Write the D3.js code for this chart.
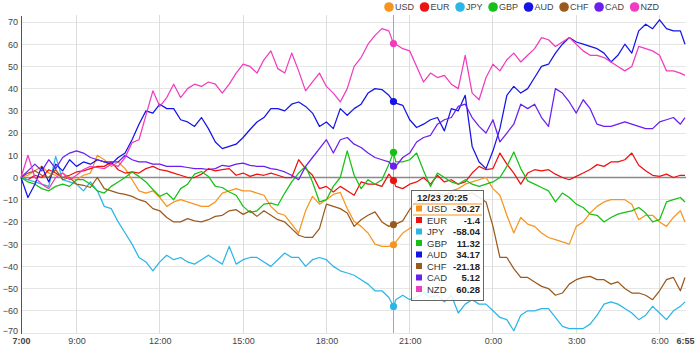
<!DOCTYPE html>
<html><head><meta charset="utf-8">
<script src="https://cdn.jsdelivr.net/npm/d3@7"></script>
<style>body{margin:0;background:#fff;font-family:"Liberation Sans",Arial,sans-serif}</style>
</head><body><svg id="c" width="700" height="358"></svg>
<script>
const currencies = ["USD","EUR","JPY","GBP","AUD","CHF","CAD","NZD"];
const colors = ["#f7941e","#ee1111","#2bb5e8","#16c016","#1414e6","#9a5a1c","#6a1ef0","#f03cbe"];
const stepMinutes = 15;      // sample spacing from 7:00
const lastMinute = 1435;     // 6:55 next day
const USD = [0,1,3,5,2,1,2,0,-1,1, 2,10,8,5,7,4,-1,-6,-7,-6, -9,-13,-11,-10,-11,-12,-13,-13,-11,-7, -6,-5,-6,-6,-7,-8,-13,-16,-17,-21, -25,-15,-8.5,-12,-10,-7.6,-6.7,-14,-19.8,-22, -25,-30,-31,-31,-29,-25,-23,-20,-16,-12, -10,-8,-6,-5,-3,-2,-1,0,-5,-8, -17,-25,-18,-21,-22,-25,-27,-28,-29,-30, -22,-20,-16,-13,-11,-10,-10,-10,-12,-19, -17,-17,-20,-22,-18,-15,-20];
const EUR = [0,-1,1,0,3.5,2,0,1,2.5,3, 4,5,5,7,3.5,2,2.5,2,4,5, 3.5,3,2,1,0,0,1.5,4,3,3.5, 4,1,2,0.5,1.5,1,2,1,0,0, 8,4,1,-5,-4,-6.5,-4,-6,-8,-2, -3,-3,-4,1.5,-4,-5,-3,-2,0,-3, 1,-2,-1,-3,-2,2,5,3.5,4,11, 6,2,-3,2,3.5,3,3.5,1.5,0,-1, 0.5,2,3.6,5.8,5,7,7,8,11,5.5, 3,1,0.5,1.5,0,1,1];
const JPY = [0,-1,-2,-3,-4,9.5,-1,-2,-3,-6, -2,-6,-13,-14,-20,-25,-30,-36,-38,-42, -38,-35,-37,-36,-38,-39,-37,-35,-37,-39, -31,-39,-37,-36,-36,-38,-40,-37,-34,-36, -36,-40,-37,-36,-37,-40,-42,-43,-44,-46, -48,-51,-51,-54,-55,-53,-55,-54,-52,-54, -53,-56,-53,-61,-57,-55,-57,-57,-60,-63, -64,-69,-62,-60,-60,-59,-59,-63,-67,-68, -68,-68,-66,-62,-57,-56,-57,-59,-61,-64, -62,-58,-61,-64,-60,-58,-56];
const GBP = [0,-2,-3,-5,-6,-4,-3,-4,-1,-1, -3,-6,-7,-4,-2,0,2.5,0.5,-2,-5.4, -8.5,-7,-10,-5,-3,1.5,2.7,0.5,-4,-4.5, -6.5,-8,-13,-15.7,-15,-12,-11.5,-12.5,-7,-2, 2,5,-2,-11,-10,-4,0,12,1,-5, -1,-3,-1,6,7,7,8,11,3,-4, 2,0,-2,-3,-1,-3,-4,-3,-2,0, 5,11.5,4,-1.5,-3,-4.5,-6,-11,-7,-9, -12,-13.5,-16.5,-17,-20,-18,-16.5,-15.7,-15,-13.5, -16,-20,-19,-11,-10,-9,-11];
const AUD = [0,-9,-3,5,-2,6,3,8,5,7, 6,8,7,6,9,11,17,24,30,29, 33,31,31,26,25,23,27,22,16,13, 14,15,18,21.6,25,27,31,31,30,33, 34,32,29,23,25,22,31,28,31,33, 38,40,39.6,37,33.5,32.5,26,22.5,24,26, 27,21,31,30,37,14,7,4,12,22, 37,41,38,40,45,50,51,56,60,63, 61,60,59,58,56,52,55,60,56,66, 69,67,71,67,66,66,60];
const CHF = [0,2,3,1,0,3.5,-1,0,-3,-3.5, -4.5,0,-5,-6,-7,-7.6,-8.5,-10,-11,-14, -15,-18,-20,-20,-18.5,-19.5,-20,-19,-17.5,-17, -15,-14.5,-16.6,-15,-17.5,-15,-17,-19,-20,-23, -26,-27,-27,-23,-12,-13,-14,-16,-22,-19, -17,-15.5,-20,-22,-21,-19.5,-14.4,-11,-9,-8, -7,-8,-7,-9,-8,-7,-9,-11,-22,-36, -36,-41,-45,-45,-47,-49,-50,-53,-52,-48, -46,-45,-44.5,-46,-46,-48,-47,-50,-52,-52, -53,-55,-51,-46,-45,-51,-45];
const CAD = [0,3,6,3,8,4,9,11,12,11, 9,8,7,7,7,10,8,7,7,6, 6,5,5,5,4.5,4,4,3.6,4,5.5, 5,6,6.5,5.5,5,5,4,3.5,2.5,1, -1,5,9,13,17,11,17,18,15,13.5, 11,9,8,7,5,9,11,16,18,19, 24,26,27,32,33,27,23,20,26,16, 20,24,33,31,33,27,23,40,38,34, 29,35,31,24,23,23,24,25,24,23, 22,22,25,26,27,24,27];
const NZD = [0,10,0,-3,-5,0,2,-1,1,3.6, 5,4.5,4,6,5,9,15.7,17,28,39, 32,36,42,36,40,42,41,43,42,38, 42,47,51,50,47,53,57,49,47,56, 48,39,43,47,41,38,34,40,50,54, 60,64,67,66,60,58,57,50,43,47, 45,46,42,40,55,38,35,45,51,48, 53,56,52,55,58,63,62,59,61,63, 60,57,55,55,54,52,50,48,50,59, 58,57,55,48,48,47,46];
const seriesValues = [USD,EUR,JPY,GBP,AUD,CHF,CAD,NZD];

const hoverMinute = 805;          // 20:25
const hoverLabel = "12/23 20:25";
const hoverValues = [-30.27,-1.4,-58.04,11.32,34.17,-21.18,5.12,60.28];
const hoverLabels = ["-30.27","-1.4","-58.04","11.32","34.17","-21.18","5.12","60.28"];
const highlighted = "USD";

const yTicks = [-70,-60,-50,-40,-30,-20,-10,0,10,20,30,40,50,60,70];
const xTickMinutes = [0,120,300,480,660,840,1020,1200,1380,1435];
const xTickLabels = ["7:00","9:00","12:00","15:00","18:00","21:00","0:00","3:00","6:00","6:55"];

const svg = d3.select("#c");
const left = 21, right = 685, plotTop = 15, plotBottom = 333;
const x = d3.scaleLinear().domain([0,lastMinute]).range([left,right]);
const y = d3.scaleLinear().domain([-70,70]).range([333,22]);

// horizontal grid
svg.append("g").selectAll("line").data(yTicks.filter(d=>d!==0)).join("line")
  .attr("x1",left).attr("x2",right+1).attr("y1",d=>y(d)).attr("y2",d=>y(d))
  .attr("stroke","#e6e6e6").attr("stroke-width",1).attr("shape-rendering","crispEdges");
// vertical grid
svg.append("g").selectAll("line").data(xTickMinutes.slice(1,-1)).join("line")
  .attr("x1",d=>x(d)).attr("x2",d=>x(d)).attr("y1",plotTop).attr("y2",plotBottom)
  .attr("stroke","#dcdcdc").attr("stroke-width",1).attr("shape-rendering","crispEdges");
// zero line
svg.append("line").attr("x1",left).attr("x2",right+1).attr("y1",y(0)).attr("y2",y(0))
  .attr("stroke","#8a8a8a").attr("stroke-width",1.6);
// crosshair
svg.append("line").attr("x1",x(hoverMinute)).attr("x2",x(hoverMinute)).attr("y1",plotTop).attr("y2",plotBottom)
  .attr("stroke","#a8a8a8").attr("stroke-width",1).attr("shape-rendering","crispEdges");

// y axis
const yAxis = d3.axisLeft(y).tickValues(yTicks).tickSize(0).tickPadding(3).tickFormat(d3.format("d"));
const gy = svg.append("g").attr("transform",`translate(${left},0)`).call(yAxis);
gy.select(".domain").remove();
gy.selectAll("text").attr("font-size",9).attr("fill","#444").attr("font-family","Liberation Sans, Arial, sans-serif")
  .attr("dy",(d)=> d===-70 ? "0.1em" : "0.32em");
svg.append("line").attr("x1",left+0.5).attr("x2",left+0.5).attr("y1",plotTop+1).attr("y2",plotBottom+1)
  .attr("stroke","#555").attr("stroke-width",1);

// x axis
const xAxis = d3.axisBottom(x).tickValues(xTickMinutes).tickSize(0).tickPadding(5)
  .tickFormat((d,i)=>xTickLabels[i]);
const gx = svg.append("g").attr("transform",`translate(0,${plotBottom})`).call(xAxis);
gx.select(".domain").remove();
gx.selectAll("text").attr("font-size",9).attr("fill","#444").attr("font-family","Liberation Sans, Arial, sans-serif")
  .attr("font-weight",(d,i)=> (i===0||i===xTickMinutes.length-1) ? "bold" : "normal");

// lines
const line = d3.line().x(d=>x(d.t)).y(d=>y(d.v));
currencies.forEach((c,k)=>{
  const vals = seriesValues[k];
  const pts = vals.map((v,i)=>({t: i===vals.length-1 ? lastMinute : i*stepMinutes, v}));
  pts.push({t:hoverMinute, v:hoverValues[k]});
  pts.sort((a,b)=>a.t-b.t);
  svg.append("path").datum(pts).attr("d",line).attr("fill","none")
    .attr("stroke",colors[k]).attr("stroke-width",1.25).attr("stroke-linejoin","round");
});
// hover markers
svg.append("g").selectAll("circle").data(hoverValues).join("circle")
  .attr("cx",x(hoverMinute)).attr("cy",d=>y(d)).attr("r",3.6)
  .attr("fill",(d,i)=>colors[i]);

// legend
const lg = svg.append("g");
let lx = 389;
currencies.forEach((c,k)=>{
  lg.append("circle").attr("cx",lx).attr("cy",7).attr("r",4.8).attr("fill",colors[k]);
  const t = lg.append("text").attr("x",lx+6).attr("y",10.2).attr("font-size",9).attr("fill","#444").text(c);
  lx = lx + 6 + t.node().getComputedTextLength() + 10.5;
});

// tooltip
const tx = 411, ty = 190, tw = 72, th = 110;
const tg = svg.append("g");
tg.append("rect").attr("x",tx+0.5).attr("y",ty+0.5).attr("width",tw).attr("height",th)
  .attr("fill","rgba(255,255,255,0.86)").attr("stroke","#666").attr("stroke-width",1);
tg.append("text").attr("x",tx+6).attr("y",ty+11).attr("font-size",9.5).attr("font-weight","bold").attr("fill","#222").text(hoverLabel);
currencies.forEach((c,k)=>{
  const ry = ty + 21 + k*11.5;
  if (c===highlighted){
    tg.append("line").attr("x1",tx+2).attr("x2",tx+tw-1).attr("y1",ry-7).attr("y2",ry-7).attr("stroke",colors[k]).attr("stroke-width",1);
    tg.append("line").attr("x1",tx+2).attr("x2",tx+tw-1).attr("y1",ry+4).attr("y2",ry+4).attr("stroke",colors[k]).attr("stroke-width",1);
  }
  tg.append("rect").attr("x",tx+5).attr("y",ry-5.5).attr("width",6).attr("height",6).attr("fill",colors[k]);
  tg.append("text").attr("x",tx+16).attr("y",ry+1).attr("font-size",9.5).attr("fill","#333").text(c);
  tg.append("text").attr("x",tx+tw-3).attr("y",ry+1).attr("font-size",9.5).attr("fill","#222").attr("font-weight","bold").attr("text-anchor","end").text(hoverLabels[k]);
});
</script></body></html>
